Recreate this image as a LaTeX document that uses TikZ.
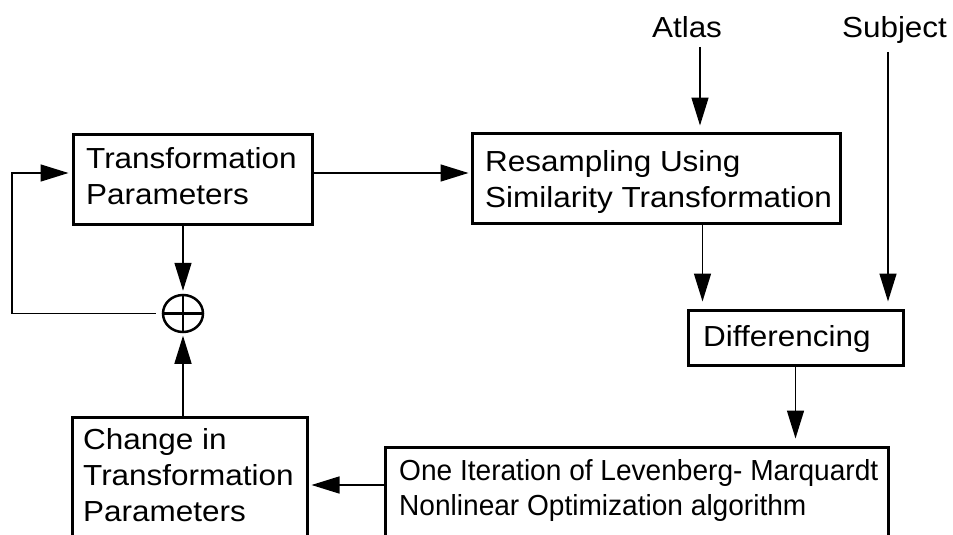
\documentclass[tikz,border=0pt]{standalone}
\usepackage{fontspec}
\setmainfont{Liberation Sans}[FakeStretch=1.085]
\newfontfamily\narrowfont{Liberation Sans}[FakeStretch=0.968]
\usetikzlibrary{arrows.meta,shapes.geometric}

\tikzset{
  blockbox/.style={draw, line width=3pt, inner sep=0pt, minimum width=#1},
  boxtext/.style={anchor=north west, inner sep=0pt, align=left,
    font=\fontsize{29}{36}\selectfont},
  plaintext/.style={anchor=base, inner sep=0pt, font=\fontsize{29}{36}\selectfont},
  arr/.style={line width=1.5pt, -{Triangle[length=28pt,width=17pt]}},
  summer/.style={draw, ellipse, line width=2.5pt, inner sep=0pt,
    minimum width=40pt, minimum height=37pt,
    path picture={
      \draw[line width=2.2pt] (path picture bounding box.north) -- (path picture bounding box.south);
      \draw[line width=2.2pt] (path picture bounding box.west) -- (path picture bounding box.east);
    }},
}

\begin{document}
\begin{tikzpicture}[x=1pt,y=-1pt]
\useasboundingbox (0,0) rectangle (953,535);
\clip (0,0) rectangle (953,535);

% blocks
\node[blockbox=239pt, minimum height=90pt]  (tp) at (192.5,179) {};
\node[blockbox=368pt, minimum height=90pt]  (rs) at (656,178) {};
\node[blockbox=215pt, minimum height=55pt]  (df) at (795.5,337.5) {};
\node[blockbox=503pt, minimum height=113pt] (lm) at (636.5,503.5) {};
\node[blockbox=235pt, minimum height=143pt] (ch) at (189.5,488.5) {};
\node[summer] (sum) at (183,313.5) {};

% block texts
\node[boxtext] (tptext) at (86,147)  {Transformation\\Parameters};
\node[boxtext] (rstext) at (485,150) {Resampling Using\\Similarity Transformation};
\node[boxtext] (dftext) at (703,325) {Differencing};
\node[boxtext, font=\narrowfont\fontsize{29}{35}\selectfont] (lmtext) at (399,459)
  {One Iteration of Levenberg- Marquardt\\Nonlinear Optimization algorithm};
\node[boxtext] (chtext) at (83,428) {Change in\\Transformation\\Parameters};

% inputs
\node[plaintext] (atlas)   at (687,38)   {Atlas};
\node[plaintext] (subject) at (894.5,38) {Subject};

% corner of the feedback loop
\coordinate (fbL) at (12,313.5);

% connectors
\draw[arr, shorten >=6pt] ([xshift=13pt,yshift=-9pt]atlas.base) -- ([xshift=13pt]atlas.base |- rs.north);
\draw[arr, shorten >=7pt] ([xshift=-6.5pt,yshift=-14pt]subject.base) -- ([xshift=-6.5pt]subject.base |- df.north);
\draw[arr, shorten >=2pt] ([yshift=6pt]tp.east) -- ([yshift=6pt]tp.east -| rs.west);
\draw[arr, shorten >=7pt] ([xshift=16pt]df.north west |- rs.south) -- ([xshift=16pt]df.north west);
\draw[arr, shorten >=7pt] (df.south) -- (df.south |- lm.north);
\draw[arr, shorten >=3pt] ([yshift=18.5pt]lm.west) -- ([yshift=18.5pt]lm.west -| ch.east);
\draw[arr, shorten >=2.5pt] (sum.south |- ch.north) -- (sum.south);
\draw[arr, shorten >=3pt] (sum.north |- tp.south) -- (sum.north);
\draw[arr, shorten <=6pt, shorten >=3pt] (sum.west) -- (fbL) |- ([yshift=6pt]tp.west);
\end{tikzpicture}
\end{document}
